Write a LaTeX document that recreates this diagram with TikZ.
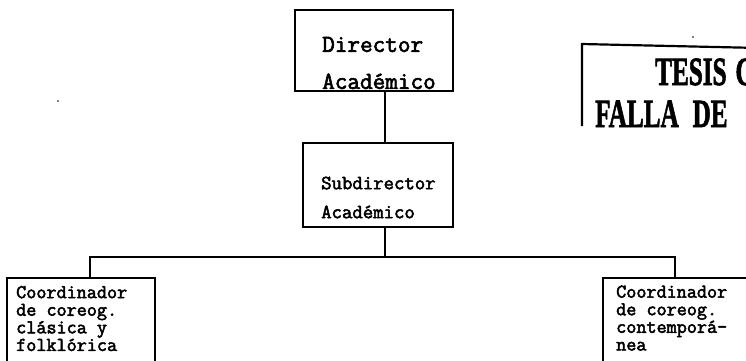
\documentclass[tikz,border=0pt]{standalone}
\usepackage{fontspec}
\newfontfamily\typer[FakeBold=2.5]{Latin Modern Mono}
\newfontfamily\stampfont[FakeBold=2]{Liberation Serif}
\begin{document}
\begin{tikzpicture}[x=1pt,y=-1pt,
  box/.style={draw,line width=2.8pt,rectangle,inner sep=0pt},
  txt/.style={anchor=west,inner sep=0pt,align=left},
  link/.style={line width=2.8pt},
  stamptxt/.style={anchor=base west,inner sep=0pt,font=\stampfont\bfseries\fontsize{40}{40}\selectfont}]
\clip (0,0) rectangle (746,360);
\fill[white] (0,0) rectangle (746,360);

% director
\node[box,minimum width=158pt,minimum height=81pt] (dir) at (374,50.5) {};
\node[txt,font=\typer\fontsize{24.5}{37}\selectfont] (dirt) at (322,63) {Director\\Acad\'emico};

% subdirector
\node[box,minimum width=150pt,minimum height=84pt] (sub) at (378,185) {};
\node[txt,font=\typer\fontsize{20.2}{29}\selectfont] (subt) at (321,197.5) {Subdirector\\Acad\'emico};

% coordinators
\node[box,minimum width=148pt,minimum height=110pt] (cl) at (81,333) {};
\node[txt,font=\typer\fontsize{19.6}{17.6}\selectfont] (clt) at (16,318.5) {Coordinador\\de coreog.\\cl\'asica y\\folkl\'orica};
\node[box,minimum width=177pt,minimum height=110pt] (cr) at (691.5,333) {};
\node[txt,font=\typer\fontsize{19.6}{17.6}\selectfont] (crt) at (616,318) {Coordinador\\de coreog.\\contempor\'a-\\nea};

% connectors
\coordinate (bus) at (385,257);
\coordinate (busl) at (90,257);
\coordinate (busr) at (675,257);
\draw[link] (dir.south -| 385,0) -- (sub.north -| 385,0);
\draw[link] (sub.south -| 385,0) -- (bus);
\draw[link,line cap=rect] (cl.north -| busl) -- (busl) -- (busr) -- (cr.north -| busr);

% stamp
\coordinate (st1) at (582,44);
\coordinate (st2) at (760,48);
\coordinate (st3) at (582,126);
\draw[line width=2.2pt] (st2) -- (st1) -- (st3);
\node[stamptxt] (s1) at (655,85) {\scalebox{0.63}[1]{TESIS\hspace{14pt}CON}};
\node[stamptxt] (s2) at (595,127) {\scalebox{0.63}[1]{FALLA\hspace{22pt}DE\hspace{45pt}ORIGEN}};

% specks
\fill (693,37) circle (0.9pt);
\fill (58,101) circle (0.9pt);
\end{tikzpicture}
\end{document}
